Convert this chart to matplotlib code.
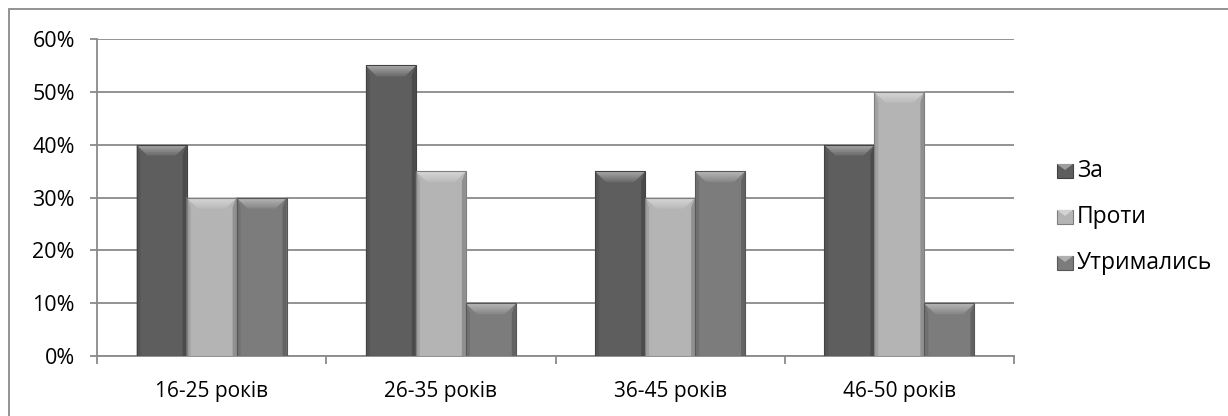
import numpy as np
import matplotlib.pyplot as plt
from matplotlib.patches import Rectangle, Polygon
import matplotlib.colors as mcolors

categories = ['16-25 років', '26-35 років', '36-45 років', '46-50 років']
series_names = ['За', 'Проти', 'Утримались']
za = [40, 55, 35, 40]
proty = [30, 35, 30, 50]
utrym = [30, 10, 35, 10]
values = [za, proty, utrym]
colors = ['#5e5e5e', '#b4b4b4', '#7c7c7c']

plt.rcParams['font.family'] = ['Open Sans', 'DejaVu Sans']

W, H = 1228, 416
fig = plt.figure(figsize=(W / 100, H / 100), dpi=100)
ax = fig.add_axes([97 / W, 1 - 356 / H, (1014 - 97) / W, (356 - 39) / H])

# outer chart frame (cut off on the right and bottom)
fig.patches.append(Rectangle((9 / W, -0.1), 1.2, 1 - 9 / H + 0.1,
                             transform=fig.transFigure, fill=False,
                             edgecolor='#8a8a8a', lw=1.3, zorder=0))

ax.set_xlim(-0.5, 3.5)
ax.set_ylim(0, 60)

bw = 0.218
px_x = 4 / (1014 - 97)     # data units per pixel, x
px_y = 60 / (356 - 39)     # data units per pixel, y


def shade(c, f):
    r, g, b = mcolors.to_rgb(c)
    if f > 0:
        return (r + (1 - r) * f, g + (1 - g) * f, b + (1 - b) * f)
    return (r * (1 + f), g * (1 + f), b * (1 + f))


def bevel_bar(x0, h, c):
    x1 = x0 + bw
    ax.add_patch(Rectangle((x0, 0), bw, h, facecolor=c, edgecolor='none', zorder=3))
    # side bevels
    sx, dy = 4 * px_x, 10 * px_y
    ax.add_patch(Polygon([(x0, 0), (x0, h), (x0 + sx, h - dy), (x0 + sx, 0)],
                         facecolor=shade(c, -0.1), edgecolor='none', zorder=4))
    ax.add_patch(Polygon([(x1, 0), (x1, h), (x1 - sx, h - dy), (x1 - sx, 0)],
                         facecolor=shade(c, -0.2), edgecolor='none', zorder=4))
    # top bevel, graded from light at the edge down to the face colour
    steps = 6
    for k in range(steps):
        t = 1 - k / steps
        d = 11 * t
        ax.add_patch(Polygon([(x0, h), (x1, h),
                              (x1 - d * px_x, h - d * px_y), (x0 + d * px_x, h - d * px_y)],
                             facecolor=shade(c, 0.1 + 0.4 * (1 - t)), edgecolor='none', zorder=4))
    ax.add_patch(Rectangle((x0, 0), bw, h, facecolor='none', edgecolor=shade(c, -0.3),
                           lw=0.8, zorder=5))


x = np.arange(len(categories))
for i, (vals, c) in enumerate(zip(values, colors)):
    for xi, v in zip(x, vals):
        bevel_bar(xi - 1.5 * bw + i * bw, v, c)

ax.set_yticks(np.arange(0, 61, 10))
ax.set_yticklabels([f'{v}%' for v in range(0, 61, 10)])
ax.yaxis.grid(True, color='#8a8a8a', lw=1.3)
ax.set_axisbelow(True)

ax.set_xticks(x)
ax.set_xticklabels(categories)
ax.set_xticks(np.arange(-0.5, 3.6, 1), minor=True)
ax.tick_params(axis='x', which='major', length=0, pad=18, labelsize=15)
ax.tick_params(axis='x', which='minor', length=6, width=1.3, color='#8a8a8a')
ax.tick_params(axis='y', length=5, width=1.3, color='#8a8a8a', pad=11, labelsize=15.5)

for s in ['top', 'right']:
    ax.spines[s].set_visible(False)
for s in ['left', 'bottom']:
    ax.spines[s].set_color('#8a8a8a')
    ax.spines[s].set_linewidth(1.3)

# legend
for name, c, yc in zip(series_names, colors, [171, 217, 263]):
    x0, y0 = 1057 / W, 1 - (yc + 7) / H
    fig.patches.append(Rectangle((x0, y0), 16 / W, 14 / H, transform=fig.transFigure,
                                 facecolor=c, edgecolor=shade(c, -0.3), lw=0.8))
    fig.patches.append(Polygon([(x0, y0 + 14 / H), (x0 + 16 / W, y0 + 14 / H),
                                (x0 + 8 / W, y0 + 8 / H)],
                               closed=True, transform=fig.transFigure,
                               facecolor=shade(c, 0.4), edgecolor='none'))
    fig.text(1077 / W, 1 - yc / H, name, fontsize=16.5, va='center', ha='left')

fig.savefig('out.png', dpi=100)
